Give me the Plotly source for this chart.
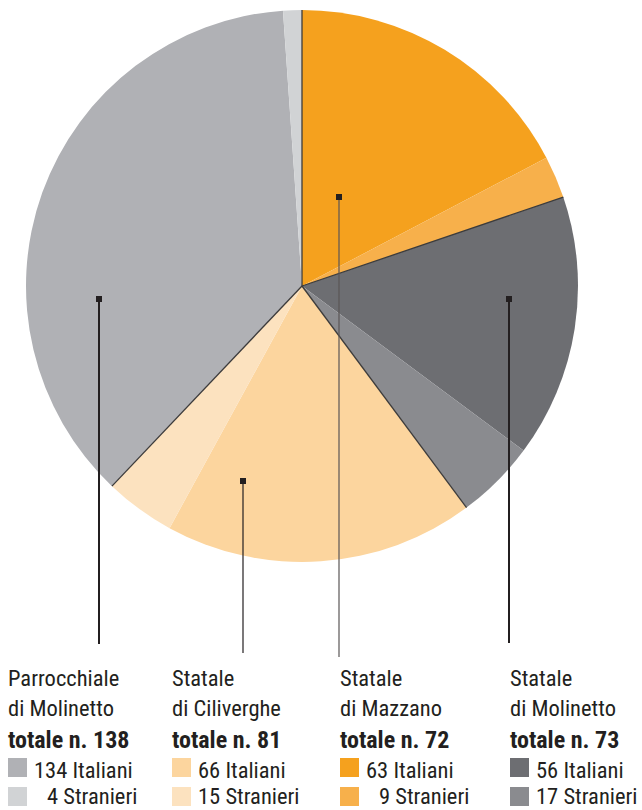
import math
import plotly.graph_objects as go

# ---- data ----
schools = ["Parrocchiale<br>di Molinetto", "Statale<br>di Ciliverghe", "Statale<br>di Mazzano", "Statale<br>di Molinetto"]
school_keys = ["Parrocchiale di Molinetto", "Statale di Ciliverghe", "Statale di Mazzano", "Statale di Molinetto"]
italiani = [134, 66, 63, 56]
stranieri = [4, 15, 9, 17]
col_italiani = ["#B0B1B5", "#FCD59E", "#F5A11E", "#6D6E72"]
col_stranieri = ["#D1D3D5", "#FCE2BF", "#F7B04B", "#8A8B8F"]

# pie order (clockwise from 12 o'clock)
pie_order = [2, 3, 1, 0]

W, H = 642, 810
CX, CY, R = 302, 286, 276

def px(x):
    return x / W

def py(y):
    return 1 - y / H

labels, values, colors = [], [], []
for i in pie_order:
    labels += [school_keys[i] + " – Italiani", school_keys[i] + " – Stranieri"]
    values += [italiani[i], stranieri[i]]
    colors += [col_italiani[i], col_stranieri[i]]

fig = go.Figure()
fig.add_trace(go.Pie(
    labels=labels, values=values, sort=False, direction="clockwise", rotation=0,
    marker=dict(colors=colors, line=dict(width=0)),
    textinfo="none", hoverinfo="label+value", showlegend=False,
    domain=dict(x=[px(CX - R), px(CX + R)], y=[py(CY + R), py(CY - R)]),
))

shapes = []
# group boundary lines (computed from data)
total = sum(values)
cum = 0
for i in pie_order:
    ang = 2 * math.pi * cum / total
    shapes.append(dict(type="line", xref="paper", yref="paper",
                       x0=px(CX), y0=py(CY),
                       x1=px(CX + R * math.sin(ang)), y1=py(CY - R * math.cos(ang)),
                       line=dict(color="#3C3B3B", width=1.3)))
    cum += italiani[i] + stranieri[i]

# leader lines with anchor squares (label decoration)
anchor_x = [99, 243, 339, 509]
anchor_y = [299, 481, 197, 299]
leader_end = [644, 653, 657, 643]
leader_w = [2, 1.2, 1.2, 2]
leader_c = ["#231F20", "#231F20", "#5A5656", "#231F20"]
for k in range(4):
    shapes.append(dict(type="line", xref="paper", yref="paper",
                       x0=px(anchor_x[k]), y0=py(anchor_y[k]),
                       x1=px(anchor_x[k]), y1=py(leader_end[k]),
                       line=dict(color=leader_c[k], width=leader_w[k])))
    shapes.append(dict(type="rect", xref="paper", yref="paper",
                       x0=px(anchor_x[k] - 3), x1=px(anchor_x[k] + 3),
                       y0=py(anchor_y[k] - 3), y1=py(anchor_y[k] + 3),
                       fillcolor="#231F20", line=dict(width=0)))

# labels
FONT = "Liberation Sans Narrow, Arial Narrow, Roboto Condensed, sans-serif"
TXT = "#231F20"
col_x = [8, 172, 340, 510]
annotations = []
for k in range(4):
    x0 = col_x[k]
    name1, name2 = schools[k].split("<br>")
    tot = italiani[k] + stranieri[k]
    rows = [(name1, 678, 22.5), (name2, 708, 22.5), (f"<b>totale n. {tot}</b>", 740, 24)]
    for text, y, fs in rows:
        annotations.append(dict(x=px(x0 - 2), y=py(y), xref="paper", yref="paper",
                                text=text, showarrow=False, xanchor="left", yanchor="middle",
                                font=dict(family=FONT, size=fs, color=TXT)))
    # legend rows
    nd_it = len(str(italiani[k]))
    for val, word, col, y, last in [(italiani[k], "Italiani", col_italiani[k], 770, False),
                                    (stranieri[k], "Stranieri", col_stranieri[k], 799, True)]:
        shapes.append(dict(type="rect", xref="paper", yref="paper",
                           x0=px(x0), x1=px(x0 + 19), y0=py(y - 12), y1=py(y + 7),
                           fillcolor=col, line=dict(width=0)))
        pad = 13 if len(str(val)) < nd_it else 0
        annotations.append(dict(x=px(x0 + 25 + pad), y=(py(810) if last else py(y)),
                                xref="paper", yref="paper",
                                text=f"{val} {word}", showarrow=False, xanchor="left",
                                yanchor=("bottom" if last else "middle"),
                                borderpad=0,
                                font=dict(family=FONT, size=22.5, color=TXT)))

fig.update_layout(
    width=W, height=H, margin=dict(l=0, r=0, t=0, b=0),
    paper_bgcolor="white", plot_bgcolor="white",
    shapes=shapes, annotations=annotations, showlegend=False,
)
fig.write_html("out.html", config={"displayModeBar": False},
               post_script="document.body.style.margin='0px';")
